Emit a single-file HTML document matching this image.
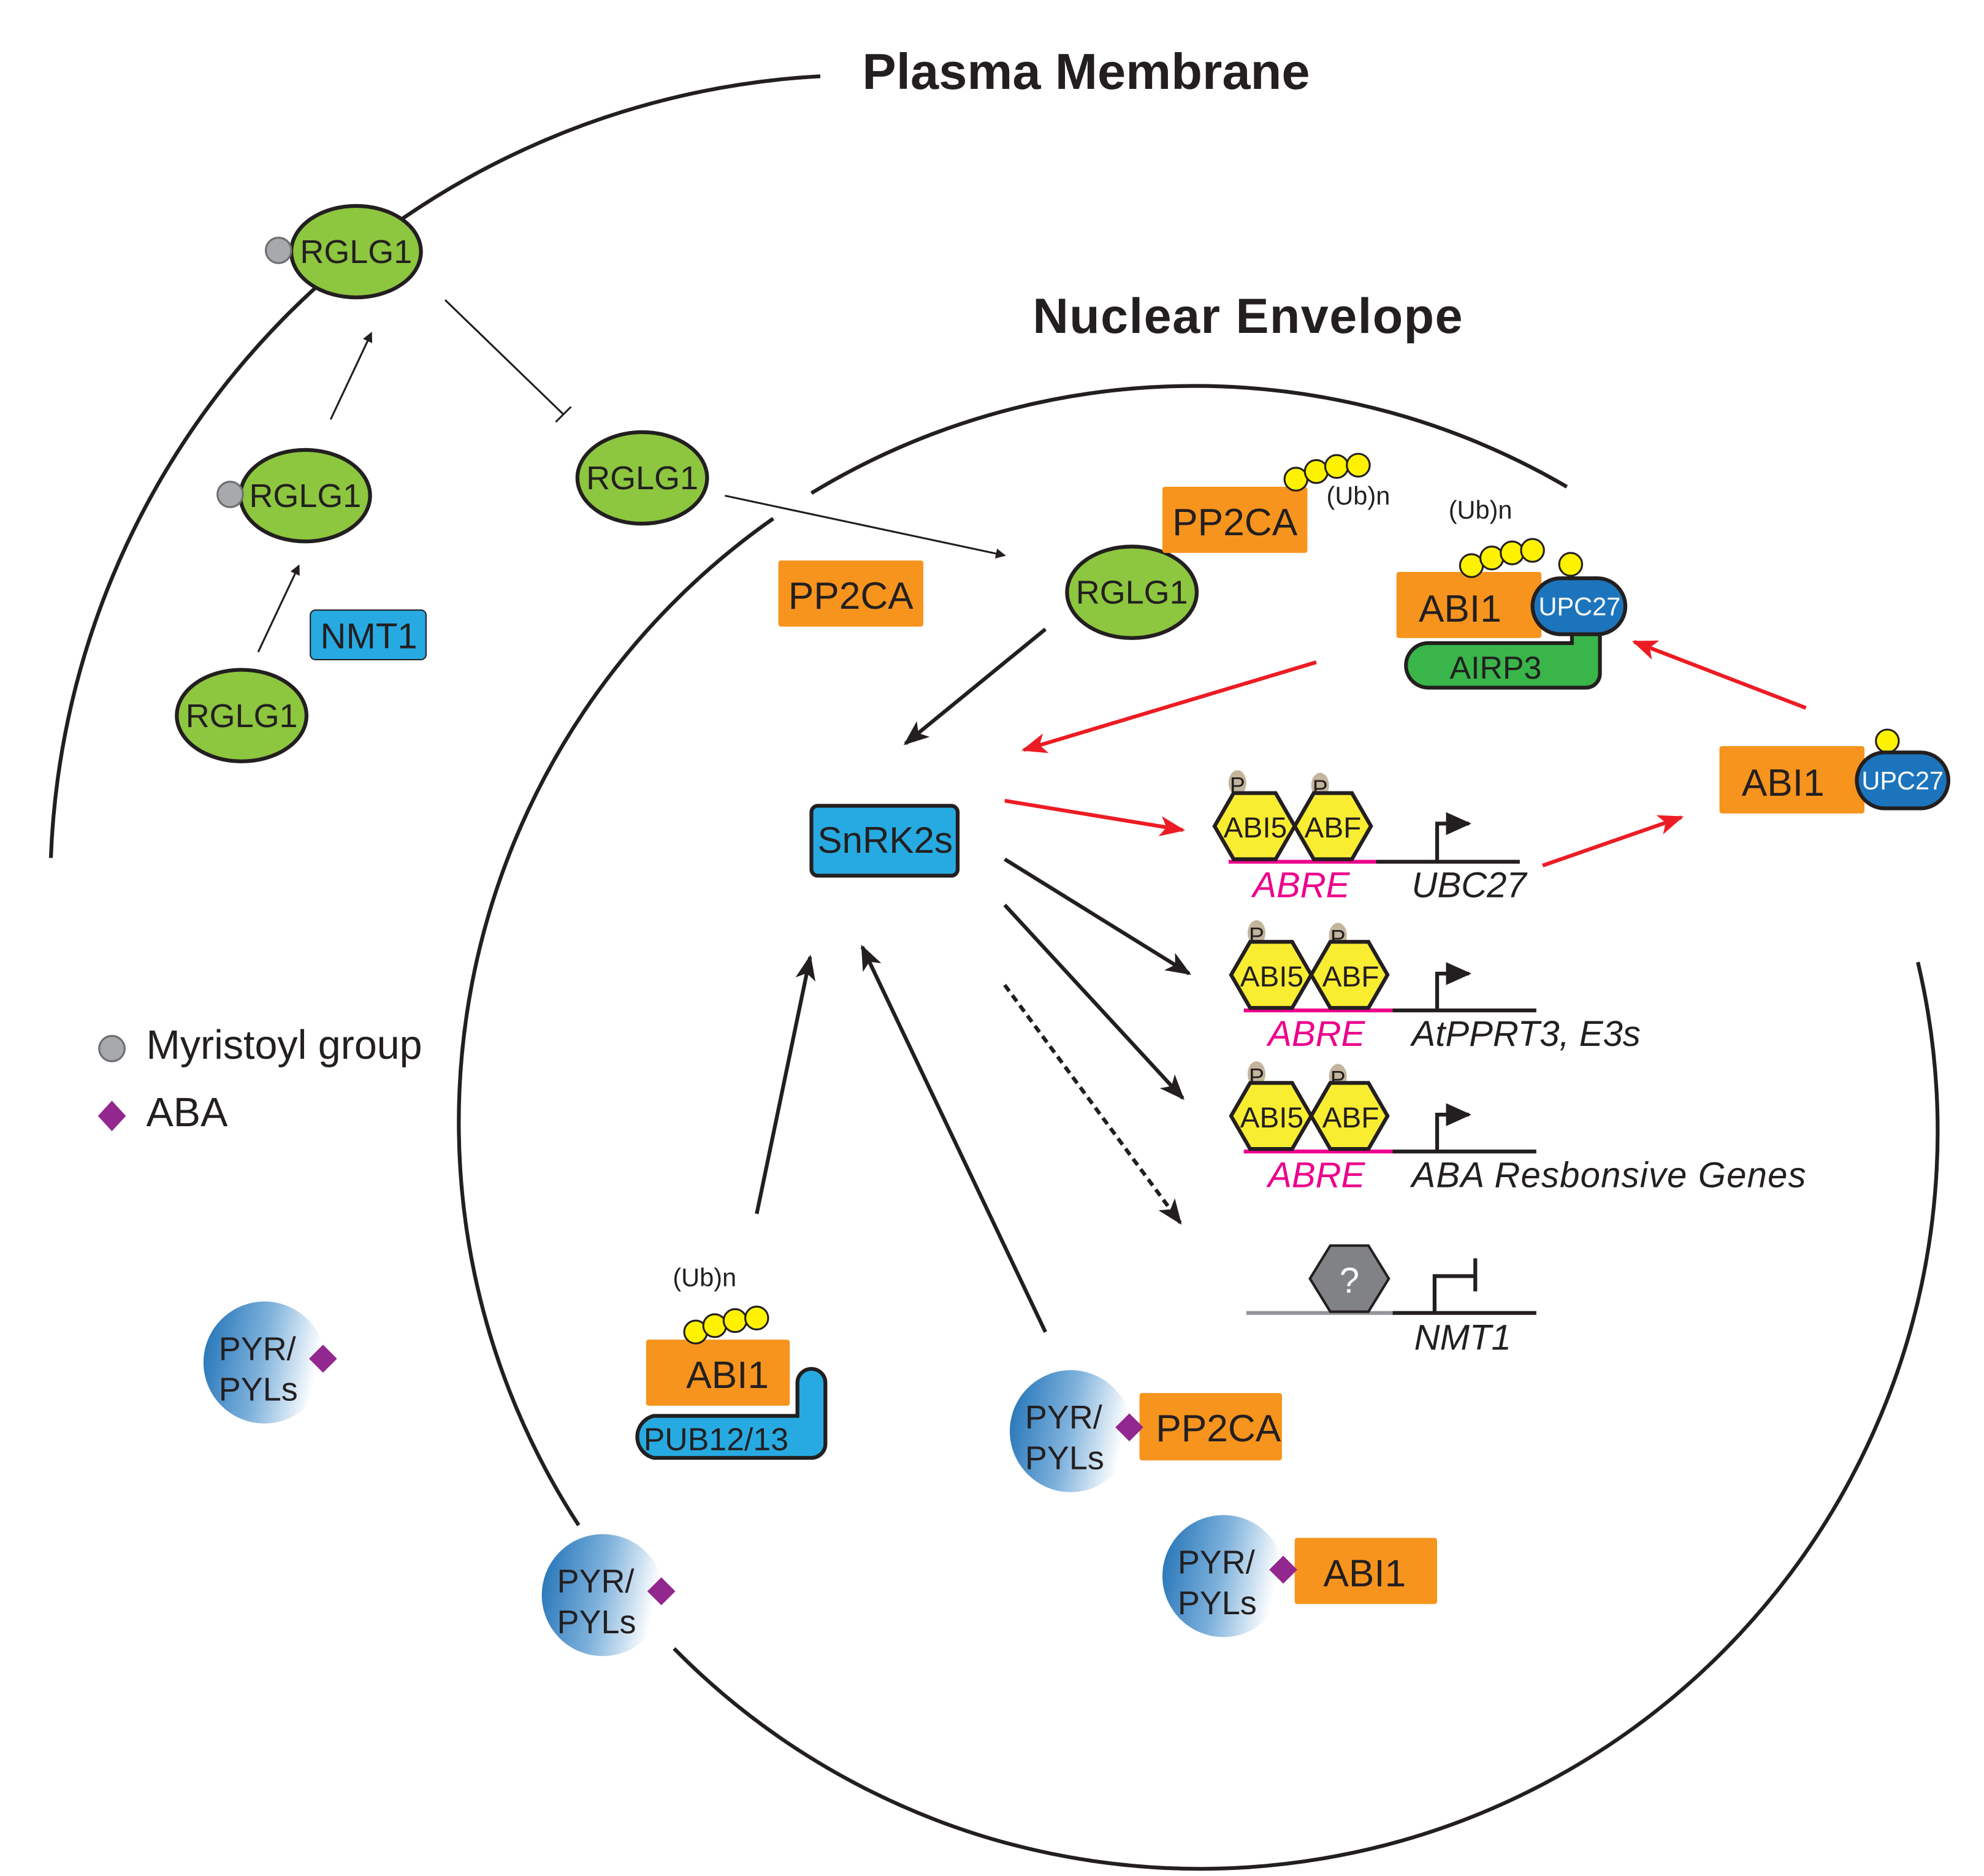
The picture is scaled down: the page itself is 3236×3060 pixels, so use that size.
<!DOCTYPE html>
<html><head><meta charset="utf-8"><style>
html,body{margin:0;padding:0;background:#fff;}
svg{display:block;}
text{font-family:"Liberation Sans",sans-serif;}
</style></head><body>
<svg width="3236" height="3060" viewBox="0 0 1560 1476" preserveAspectRatio="none" xmlns="http://www.w3.org/2000/svg">
<defs>
<marker id="ab" markerWidth="8" markerHeight="8" refX="7" refY="4" orient="auto" markerUnits="userSpaceOnUse"><path d="M0,0 L8,4 L0,8 z" fill="#231f20"/></marker>
<marker id="abig" markerWidth="20" markerHeight="16" refX="18" refY="8" orient="auto" markerUnits="userSpaceOnUse"><path d="M0,0 L20,8 L0,16 L5,8 z" fill="#231f20"/></marker>
<marker id="ared" markerWidth="20" markerHeight="16" refX="18" refY="8" orient="auto" markerUnits="userSpaceOnUse"><path d="M0,0 L20,8 L0,16 L5,8 z" fill="#ed1c24"/></marker>
<marker id="prom" markerWidth="20" markerHeight="18" refX="18" refY="9" orient="auto" markerUnits="userSpaceOnUse"><path d="M0,0 L20,9 L0,18 z" fill="#231f20"/></marker>
<linearGradient id="pyr" x1="0" y1="0" x2="1" y2="0.2"><stop offset="0" stop-color="#1c6fb5"/><stop offset="0.55" stop-color="#7fb2dc"/><stop offset="1" stop-color="#ffffff"/></linearGradient>
</defs>

<path d="M40,675 A640,640 0 0 1 645,60" fill="none" stroke="#231f20" stroke-width="3"/>
<path d="M638,388 A580,580 0 0 1 1232,383" fill="none" stroke="#231f20" stroke-width="3"/>
<path d="M1508,757 A580,580 0 0 1 530,1297" fill="none" stroke="#231f20" stroke-width="3"/>
<path d="M455,1200 A580,580 0 0 1 608,408" fill="none" stroke="#231f20" stroke-width="3"/>

<text x="678" y="70" font-size="40" font-weight="bold" fill="#231f20" textLength="352">Plasma Membrane</text>
<text x="812" y="262" font-size="39" font-weight="bold" fill="#231f20" textLength="338">Nuclear Envelope</text>

<g stroke="#231f20" stroke-width="3" fill="#8dc63f">
<ellipse cx="280" cy="198" rx="51" ry="36"/>
<ellipse cx="240" cy="390" rx="51" ry="36"/>
<ellipse cx="505" cy="376" rx="51" ry="36"/>
<ellipse cx="890" cy="466" rx="51" ry="36"/>
<ellipse cx="190" cy="563" rx="51" ry="36"/>
</g>
<g font-size="26" fill="#231f20" text-anchor="middle">
<text x="280" y="207">RGLG1</text><text x="240" y="399">RGLG1</text><text x="505" y="385">RGLG1</text><text x="890" y="475">RGLG1</text><text x="190" y="572">RGLG1</text>
</g>
<circle cx="219" cy="197" r="10" fill="#a7a9ac" stroke="#6d6e71" stroke-width="1.5"/>
<circle cx="181" cy="389" r="10" fill="#a7a9ac" stroke="#6d6e71" stroke-width="1.5"/>

<rect x="244" y="480" width="91" height="39" rx="4" fill="#27aae1" stroke="#231f20" stroke-width="1"/>
<text x="290" y="510" font-size="28" text-anchor="middle" fill="#231f20">NMT1</text>

<g stroke="#231f20" stroke-width="1.5" fill="none">
<line x1="260" y1="330" x2="292" y2="262" marker-end="url(#ab)"/>
<line x1="203" y1="513" x2="235" y2="445" marker-end="url(#ab)"/>
<line x1="350" y1="236" x2="443" y2="326"/>
<line x1="437" y1="332" x2="449" y2="320"/>
<line x1="570" y1="390" x2="790" y2="437" marker-end="url(#ab)"/>
</g>

<g fill="#f7941d">
<rect x="612" y="441" width="114" height="52" rx="2"/>
<rect x="914" y="383" width="114" height="52" rx="2"/>
<rect x="1098" y="450" width="114" height="52" rx="2"/>
<rect x="1352" y="587" width="114" height="53" rx="2"/>
<rect x="508" y="1054" width="113" height="52" rx="2"/>
<rect x="896" y="1096" width="112" height="53" rx="2"/>
<rect x="1018" y="1210" width="112" height="52" rx="2"/>
</g>
<g font-size="30" fill="#231f20" text-anchor="middle">
<text x="669" y="479">PP2CA</text>
<text x="971" y="421">PP2CA</text>
<text x="1148" y="489">ABI1</text>
<text x="1402" y="626">ABI1</text>
<text x="572" y="1092">ABI1</text>
<text x="958" y="1134">PP2CA</text>
<text x="1073" y="1248">ABI1</text>
</g>

<g fill="#fff200" stroke="#231f20" stroke-width="1.5">
<circle cx="1019" cy="377" r="9"/><circle cx="1035" cy="371" r="9"/><circle cx="1051" cy="367" r="9"/><circle cx="1068" cy="366" r="9"/>
<circle cx="1157" cy="445" r="9"/><circle cx="1173" cy="439" r="9"/><circle cx="1189" cy="435" r="9"/><circle cx="1205" cy="433" r="9"/>
<circle cx="1235" cy="444" r="9"/>
<circle cx="1484" cy="583" r="9"/>
<circle cx="547" cy="1048" r="9"/><circle cx="562" cy="1043" r="9"/><circle cx="578" cy="1039" r="9"/><circle cx="595" cy="1037" r="9"/>
</g>
<g font-size="20" fill="#231f20">
<text x="1043" y="397">(Ub)n</text><text x="1139" y="408">(Ub)n</text><text x="529" y="1012">(Ub)n</text>
</g>

<path d="M1123,506 H1236 V485 a11,11 0 0 1 22,0 V530 a11,11 0 0 1 -11,11 H1123 a17,17 0 0 1 0,-35 z" fill="#39b54a" stroke="#231f20" stroke-width="3"/>
<text x="1176" y="534" font-size="25" text-anchor="middle" fill="#231f20">AIRP3</text>
<rect x="1205" y="455" width="73" height="44" rx="22" fill="#1c75bc" stroke="#231f20" stroke-width="3"/>
<text x="1242" y="484" font-size="20" text-anchor="middle" fill="#fff">UPC27</text>
<rect x="1460" y="592" width="72" height="44" rx="22" fill="#1c75bc" stroke="#231f20" stroke-width="3"/>
<text x="1496" y="621" font-size="20" text-anchor="middle" fill="#fff">UPC27</text>

<path d="M514,1114 H627 V1088 a11,11 0 0 1 22,0 V1136 a11,11 0 0 1 -11,11 H514 a17,17 0 0 1 0,-33 z" fill="#27aae1" stroke="#231f20" stroke-width="3"/>
<text x="563" y="1141" font-size="25" text-anchor="middle" fill="#231f20">PUB12/13</text>

<rect x="638" y="634" width="115" height="55" rx="5" fill="#27aae1" stroke="#231f20" stroke-width="3"/>
<text x="696" y="671" font-size="29" text-anchor="middle" fill="#231f20">SnRK2s</text>

<g stroke="#ed1c24" stroke-width="3" fill="none">
<line x1="1035" y1="521" x2="805" y2="590" marker-end="url(#ared)"/>
<line x1="1420" y1="557" x2="1285" y2="505" marker-end="url(#ared)"/>
<line x1="790" y1="630" x2="930" y2="653" marker-end="url(#ared)"/>
<line x1="1213" y1="681" x2="1322" y2="643" marker-end="url(#ared)"/>
</g>
<g stroke="#231f20" stroke-width="3" fill="none">
<line x1="822" y1="495" x2="712" y2="585" marker-end="url(#abig)"/>
<line x1="595" y1="955" x2="637" y2="753" marker-end="url(#abig)"/>
<line x1="822" y1="1048" x2="678" y2="745" marker-end="url(#abig)"/>
<line x1="790" y1="676" x2="935" y2="766" marker-end="url(#abig)"/>
<line x1="790" y1="712" x2="930" y2="864" marker-end="url(#abig)"/>
<line x1="790" y1="775" x2="928" y2="962" stroke-dasharray="6,4" marker-end="url(#abig)"/>
</g>

<line x1="966" y1="678" x2="1082" y2="678" stroke="#ec008c" stroke-width="3"/>
<line x1="1082" y1="678" x2="1195" y2="678" stroke="#231f20" stroke-width="3"/>
<line x1="978" y1="795" x2="1095" y2="795" stroke="#ec008c" stroke-width="3"/>
<line x1="1095" y1="795" x2="1208" y2="795" stroke="#231f20" stroke-width="3"/>
<line x1="978" y1="906" x2="1095" y2="906" stroke="#ec008c" stroke-width="3"/>
<line x1="1095" y1="906" x2="1208" y2="906" stroke="#231f20" stroke-width="3"/>
<line x1="980" y1="1033" x2="1095" y2="1033" stroke="#939598" stroke-width="3"/>
<line x1="1095" y1="1033" x2="1208" y2="1033" stroke="#231f20" stroke-width="3"/>

<g fill="#c2b59b">
<ellipse cx="973" cy="616" rx="7" ry="10"/><ellipse cx="1038" cy="618" rx="7" ry="10"/>
<ellipse cx="988" cy="734" rx="7" ry="10"/><ellipse cx="1052" cy="736" rx="7" ry="10"/>
<ellipse cx="988" cy="845" rx="7" ry="10"/><ellipse cx="1052" cy="847" rx="7" ry="10"/>
</g>
<g font-size="18" fill="#231f20" text-anchor="middle">
<text x="973" y="624">P</text><text x="1038" y="626">P</text>
<text x="988" y="742">P</text><text x="1052" y="744">P</text>
<text x="988" y="853">P</text><text x="1052" y="855">P</text>
</g>
<g fill="#f9ed32" stroke="#231f20" stroke-width="3">
<polygon points="955,650 970,624 1003,624 1018,650 1003,676 970,676"/>
<polygon points="1018,650 1033,624 1063,624 1078,650 1063,676 1033,676"/>
<polygon points="968,767 983,741 1016,741 1031,767 1016,793 983,793"/>
<polygon points="1031,767 1046,741 1076,741 1091,767 1076,793 1046,793"/>
<polygon points="968,878 983,852 1016,852 1031,878 1016,904 983,904"/>
<polygon points="1031,878 1046,852 1076,852 1091,878 1076,904 1046,904"/>
</g>
<polygon points="1030,1006 1046,980 1076,980 1092,1006 1076,1032 1046,1032" fill="#808285" stroke="#231f20" stroke-width="2"/>
<text x="1061" y="1017" font-size="28" fill="#fff" text-anchor="middle">?</text>
<g font-size="23" fill="#231f20" text-anchor="middle">
<text x="987" y="659">ABI5</text><text x="1048" y="659">ABF</text>
<text x="1000" y="776">ABI5</text><text x="1062" y="776">ABF</text>
<text x="1000" y="887">ABI5</text><text x="1062" y="887">ABF</text>
</g>
<g stroke="#231f20" stroke-width="3" fill="none">
<path d="M1130,678 V648 H1155" marker-end="url(#prom)"/>
<path d="M1130,795 V766 H1155" marker-end="url(#prom)"/>
<path d="M1130,906 V877 H1155" marker-end="url(#prom)"/>
<path d="M1128,1033 V1004 H1160 M1160,990 V1016"/>
</g>
<g font-size="28" font-style="italic">
<text x="985" y="706" fill="#ec008c">ABRE</text><text x="1110" y="706" fill="#231f20">UBC27</text>
<text x="997" y="823" fill="#ec008c">ABRE</text><text x="1110" y="823" fill="#231f20">AtPPRT3, E3s</text>
<text x="997" y="934" fill="#ec008c">ABRE</text><text x="1110" y="934" fill="#231f20" textLength="310">ABA Resbonsive Genes</text>
<text x="1112" y="1062" fill="#231f20">NMT1</text>
</g>

<circle cx="88" cy="825" r="10" fill="#a7a9ac" stroke="#6d6e71" stroke-width="1.5"/>
<text x="115" y="833" font-size="32" fill="#231f20">Myristoyl group</text>
<polygon points="88,866 99,878 88,890 77,878" fill="#92278f"/>
<text x="115" y="886" font-size="32" fill="#231f20">ABA</text>

<g>
<circle cx="208" cy="1072" r="48" fill="url(#pyr)"/>
<circle cx="474" cy="1255" r="48" fill="url(#pyr)"/>
<circle cx="842" cy="1126" r="48" fill="url(#pyr)"/>
<circle cx="962" cy="1240" r="48" fill="url(#pyr)"/>
</g>
<g fill="#92278f">
<polygon points="254,1058 265,1069 254,1080 243,1069"/>
<polygon points="520,1241 531,1252 520,1263 509,1252"/>
<polygon points="888,1112 899,1123 888,1134 877,1123"/>
<polygon points="1009,1224 1020,1235 1009,1246 998,1235"/>
</g>
<g font-size="26" fill="#231f20">
<text x="172" y="1070">PYR/</text><text x="172" y="1102">PYLs</text>
<text x="438" y="1253">PYR/</text><text x="438" y="1285">PYLs</text>
<text x="806" y="1124">PYR/</text><text x="806" y="1156">PYLs</text>
<text x="926" y="1238">PYR/</text><text x="926" y="1270">PYLs</text>
</g>
</svg>
</body></html>
